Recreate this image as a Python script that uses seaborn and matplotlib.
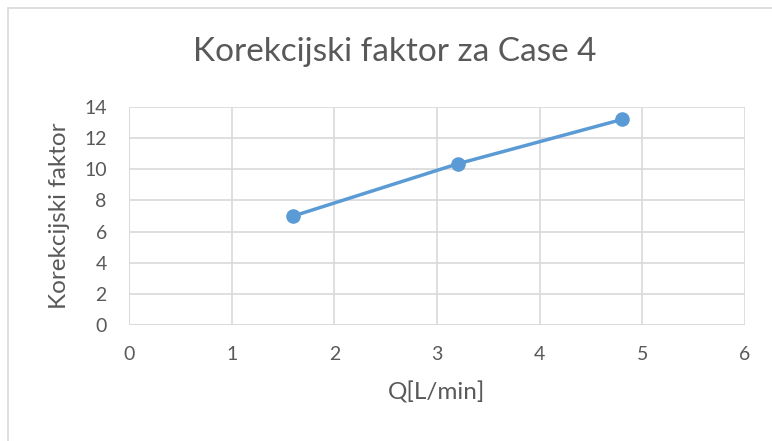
import matplotlib
matplotlib.use("Agg")
import matplotlib.pyplot as plt
from matplotlib.lines import Line2D
import seaborn as sns
import pandas as pd

# Correction factor measured at three flow rates
flow_rates = [1.6, 3.2, 4.8]
correction_factor = [7.0, 10.35, 13.2]
x_ticks = [0, 1, 2, 3, 4, 5, 6]
y_ticks = [0, 2, 4, 6, 8, 10, 12, 14]

title = "Korekcijski faktor za Case 4"
x_label = "Q[L/min]"
y_label = "Korekcijski faktor"

sns.set_theme(style="white")
plt.rcParams["font.family"] = ["Lato", "DejaVu Sans"]

text_color = "#595959"
grid_color = "#d9d9d9"
line_color = "#5b9bd5"

df = pd.DataFrame({"Q": flow_rates, "K": correction_factor})

fig = plt.figure(figsize=(7.72, 4.41), dpi=100)
ax = fig.add_axes([0.1671, 0.2630, 0.798, 0.4943])

sns.lineplot(data=df, x="Q", y="K", ax=ax, color=line_color, linewidth=2.5,
             marker="o", markersize=10.5, markeredgewidth=0, zorder=3)

ax.set_xlim(0, 6)
ax.set_ylim(0, 14)
ax.set_xticks(x_ticks)
ax.set_yticks(y_ticks)
ax.grid(True, color=grid_color, linewidth=1.2)
for side in ["top", "right", "left", "bottom"]:
    ax.spines[side].set_visible(False)
ax.axhline(0, color=grid_color, linewidth=1.2, zorder=1)
ax.axvline(0, color=grid_color, linewidth=1.2, zorder=1)
ax.tick_params(axis="both", length=0, labelsize=14, labelcolor=text_color)
ax.tick_params(axis="x", pad=15)
ax.tick_params(axis="y", pad=16)

ax.set_xlabel(x_label, fontsize=17.5, color=text_color, va="center")
ax.xaxis.set_label_coords(0.5, -0.31)
ax.set_ylabel(y_label, fontsize=17.5, color=text_color, va="center")
ax.yaxis.set_label_coords(-0.1136, 0.5)
fig.text(0.511, 0.881, title, fontsize=24, color=text_color, ha="center", va="center")

# chart area border (top and left edges fall inside the image)
W, H = 772, 441
fig.add_artist(Line2D([8 / W, 1], [1 - 8 / H, 1 - 8 / H], transform=fig.transFigure,
                      color="#d9d9d9", linewidth=1.2))
fig.add_artist(Line2D([8 / W, 8 / W], [0, 1 - 8 / H], transform=fig.transFigure,
                      color="#d9d9d9", linewidth=1.2))

fig.savefig("out.png", dpi=100, facecolor="white")
